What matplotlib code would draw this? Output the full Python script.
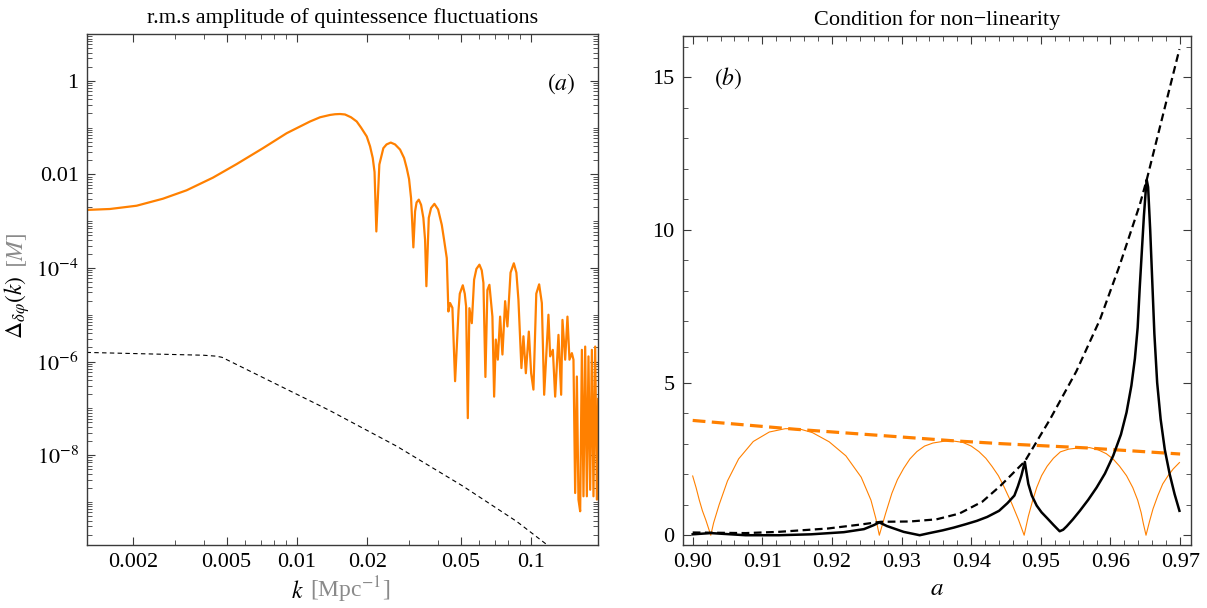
import numpy as np
import matplotlib
matplotlib.use("Agg")
import matplotlib.pyplot as plt
from matplotlib.ticker import FixedLocator, NullFormatter, FixedFormatter, MultipleLocator

plt.rcParams['font.family'] = ['Liberation Serif', 'DejaVu Serif']
plt.rcParams['mathtext.fontset'] = 'stix'

# ---------------- Panel (a) data ----------------
# log10(k) and log10(amplitude)
orange_logk = [-2.8987, -2.7991, -2.6850, -2.5726, -2.4714, -2.3590, -2.2577, -2.1453,
               -2.0440, -1.9444, -1.9017, -1.8590, -1.8376, -1.8162, -1.7949, -1.7692,
               -1.7449, -1.7265, -1.7021, -1.6880, -1.6765, -1.6688, -1.6611,
               -1.6483, -1.6312, -1.6175, -1.5996, -1.5812, -1.5598, -1.5427, -1.5312,
               -1.5214, -1.5128, -1.5030, -1.4957, -1.4893, -1.4799, -1.4701, -1.4603,
               -1.4530, -1.4474, -1.4372, -1.4274, -1.4132, -1.3974, -1.3816, -1.3718,
               -1.3603, -1.3534, -1.3462, -1.3363, -1.3248, -1.3175, -1.3100, -1.3047, -1.2919,
               -1.2835, -1.2778, -1.2705, -1.2637, -1.2534, -1.2436, -1.2337, -1.2209,
               -1.2110, -1.2038, -1.1953, -1.1868, -1.1782, -1.1654, -1.1581, -1.1509,
               -1.1423, -1.1325, -1.1226, -1.1111, -1.1013, -1.0880, -1.0739, -1.0630,
               -1.0543, -1.0415, -1.0329, -1.0226, -1.0098, -1.0000, -0.9902, -0.9780,
               -0.9658, -0.9543, -0.9444, -0.9261, -0.9188, -0.9073, -0.8974, -0.8833,
               -0.8718, -0.8662, -0.8547, -0.8449, -0.8363, -0.8261, -0.8192, -0.8120,
               -0.8047, -0.7979, -0.7906, -0.7833, -0.7765, -0.7692, -0.7620, -0.7551,
               -0.7479, -0.7406, -0.7338, -0.7265, -0.7192, -0.7137]
orange_logamp = [-2.76, -2.74, -2.67, -2.52, -2.34, -2.07, -1.78, -1.44,
                 -1.12, -0.87, -0.78, -0.73, -0.715, -0.71, -0.72, -0.78,
                 -0.87, -1.00, -1.19, -1.40, -1.65, -1.95, -3.22,
                 -1.79, -1.44, -1.36, -1.32, -1.36, -1.47, -1.65, -1.87,
                 -2.10, -2.51, -3.56, -2.79, -2.60, -2.54, -2.65, -2.93,
                 -3.40, -4.39, -2.93, -2.72, -2.63, -2.75, -3.08, -3.40,
                 -3.79, -4.93, -4.75, -4.85, -6.42, -5.68, -4.90, -4.55, -4.37,
                 -4.55, -4.82, -7.21, -4.86, -5.18, -4.25, -4.02, -3.93,
                 -4.05, -4.32, -6.33, -4.47, -4.36, -5.04, -6.75, -5.53,
                 -5.96, -5.04, -5.85, -4.71, -5.25, -4.10, -3.90, -4.10,
                 -4.68, -6.14, -5.46, -6.25, -5.36, -6.25, -6.60, -4.55,
                 -4.35, -4.75, -6.71, -5.00, -5.89, -5.75, -6.75, -5.43,
                 -6.71, -5.11, -5.96, -5.04, -5.96, -5.82, -5.96, -8.81,
                 -6.32, -8.95, -9.20, -5.75, -8.88, -5.68, -8.88, -5.89,
                 -8.74, -5.75, -8.88, -5.68, -8.95, -6.80]

dashed_logk = [-2.899, -2.40, -2.345, -2.32, -2.30, -1.859, -1.574, -1.289, -1.061, -0.90]
dashed_logamp = [-5.805, -5.865, -5.885, -5.91, -5.96, -7.05, -7.81, -8.67, -9.42, -10.04]

xticks_a = [0.002, 0.005, 0.01, 0.02, 0.05, 0.1]
xtick_labels_a = ['0.002', '0.005', '0.01', '0.02', '0.05', '0.1']
yticks_a = [1e0, 1e-2, 1e-4, 1e-6, 1e-8]
ytick_labels_a = ['1', '0.01', r'$10^{-4}$', r'$10^{-6}$', r'$10^{-8}$']

# ---------------- Panel (b) data ----------------
env_a = [0.900, 0.9148, 0.937, 0.9442, 0.9565, 0.970]
env_v = [3.76, 3.47, 3.10, 3.00, 2.86, 2.66]

osc_a = [0.9000, 0.9005, 0.90095, 0.9014, 0.9019, 0.9026, 0.9030, 0.9038, 0.9050, 0.9066,
         0.9087, 0.9110, 0.9133, 0.9152, 0.9172, 0.9196, 0.9220, 0.9242, 0.9256, 0.9263,
         0.9268, 0.9277, 0.9286, 0.9294, 0.9303, 0.9312, 0.9322, 0.9333, 0.9345, 0.9364,
         0.9376, 0.9388, 0.9400, 0.9411, 0.9421, 0.9430, 0.9439, 0.9447, 0.9458, 0.9468,
         0.9476, 0.9482, 0.9488, 0.9494, 0.9501, 0.9509, 0.9518, 0.9528, 0.9540, 0.9551,
         0.9570, 0.9582, 0.9594, 0.9604, 0.9613, 0.9623, 0.9632, 0.9639, 0.9644, 0.9647,
         0.9651, 0.9656, 0.9661, 0.9668, 0.9675, 0.9683, 0.9690, 0.9699]
osc_v = [1.94, 1.55, 1.15, 0.80, 0.49, 0.00, 0.40, 1.00, 1.78, 2.50,
         3.07, 3.38, 3.49, 3.49, 3.36, 3.06, 2.60, 1.90, 1.15, 0.55,
         0.00, 0.71, 1.37, 1.82, 2.19, 2.50, 2.74, 2.92, 3.02, 3.09,
         3.08, 3.04, 2.92, 2.74, 2.52, 2.25, 1.95, 1.59, 1.05, 0.50,
         0.00, 0.62, 1.12, 1.56, 1.95, 2.26, 2.52, 2.73, 2.82, 2.85,
         2.87, 2.80, 2.67, 2.49, 2.26, 1.95, 1.56, 1.15, 0.74, 0.40,
         0.00, 0.45, 0.86, 1.30, 1.68, 1.96, 2.17, 2.38]

solid_a = [0.9000, 0.9026, 0.9076, 0.9123, 0.9170, 0.9217, 0.9246, 0.9260, 0.9268, 0.9279,
           0.9303, 0.9326, 0.9340, 0.9359, 0.9375, 0.9392, 0.9408, 0.9423, 0.9440, 0.9452,
           0.9462, 0.9467, 0.9472, 0.9477, 0.9479, 0.9482, 0.9487, 0.9494, 0.9501, 0.9509,
           0.9518, 0.9527, 0.9532, 0.9537, 0.9546, 0.9556, 0.9568, 0.9580, 0.9592, 0.9604,
           0.9615, 0.9623, 0.9630, 0.9635, 0.9639, 0.9642, 0.9645, 0.9648, 0.9651, 0.9652,
           0.9654, 0.9657, 0.9660, 0.9663, 0.9667, 0.9672, 0.9678, 0.9685, 0.9692, 0.9699]
solid_v = [0.03, 0.07, 0.00, 0.00, 0.03, 0.10, 0.20, 0.33, 0.42, 0.30,
           0.11, 0.00, 0.07, 0.16, 0.25, 0.36, 0.47, 0.60, 0.80, 1.05,
           1.30, 1.60, 1.95, 2.40, 2.10, 1.68, 1.30, 0.97, 0.75, 0.56,
           0.34, 0.13, 0.18, 0.29, 0.52, 0.80, 1.16, 1.56, 2.02, 2.61,
           3.30, 4.02, 4.90, 5.78, 6.80, 8.12, 9.30, 10.47, 11.40, 11.64,
           11.40, 10.00, 8.30, 6.60, 5.00, 3.80, 2.80, 2.00, 1.35, 0.80]

bound_a = [0.9000, 0.9076, 0.9123, 0.9194, 0.9241, 0.9270, 0.9312, 0.9350, 0.9383, 0.9416,
           0.9442, 0.9477, 0.9513, 0.9551, 0.9585, 0.9613, 0.9642, 0.9652, 0.9670, 0.9699]
bound_v = [0.09, 0.07, 0.11, 0.22, 0.35, 0.44, 0.45, 0.52, 0.71, 1.10,
           1.62, 2.42, 3.79, 5.37, 7.07, 8.83, 10.82, 11.64, 13.28, 15.92]

xticks_b = [0.90, 0.91, 0.92, 0.93, 0.94, 0.95, 0.96, 0.97]
xtick_labels_b = ['0.90', '0.91', '0.92', '0.93', '0.94', '0.95', '0.96', '0.97']
yticks_b = [0, 5, 10, 15]

ORANGE = '#FF8000'
GRAY = '#8a8a8a'
SPINE = '#3a3a3a'
TICKFS = 16

W, H = 1207, 608
fig = plt.figure(figsize=(W / 100, H / 100), dpi=100)

def frac(x0, y0, x1, y1):
    return [x0 / W, 1 - y1 / H, (x1 - x0) / W, (y1 - y0) / H]

ax1 = fig.add_axes(frac(87, 34, 598, 545))
ax2 = fig.add_axes(frac(683, 36, 1191, 545))

for ax in (ax1, ax2):
    for s in ax.spines.values():
        s.set_color(SPINE)
        s.set_linewidth(1.0)
    ax.tick_params(which='both', direction='in', top=True, right=True, color=SPINE,
                   labelsize=TICKFS, pad=6)
    ax.tick_params(which='major', length=6, width=0.8)
    ax.tick_params(which='minor', length=3.5, width=0.6)

# ---------------- Panel (a) ----------------
ax1.set_xscale('log')
ax1.set_yscale('log')
ax1.plot(10 ** np.array(orange_logk), 10 ** np.array(orange_logamp), color=ORANGE, lw=1.6,
         solid_joinstyle='round')
ax1.plot(10 ** np.array(dashed_logk), 10 ** np.array(dashed_logamp), color='black', lw=0.8,
         dashes=(4, 3))
ax1.set_xlim(0.001268, 0.193)
ax1.set_ylim(1.2e-10, 10)
ax1.xaxis.set_major_locator(FixedLocator(xticks_a))
ax1.xaxis.set_major_formatter(FixedFormatter(xtick_labels_a))
minor_x = [m * d for d in (0.001, 0.01, 0.1) for m in range(1, 10)]
ax1.xaxis.set_minor_locator(FixedLocator([v for v in minor_x if v not in xticks_a]))
ax1.xaxis.set_minor_formatter(NullFormatter())
ax1.yaxis.set_major_locator(FixedLocator(yticks_a))
ax1.yaxis.set_major_formatter(FixedFormatter(ytick_labels_a))
minor_y = []
for e in range(-10, 2):
    for m in range(1, 10):
        minor_y.append(m * 10.0 ** e)
ax1.yaxis.set_minor_locator(FixedLocator(minor_y))
ax1.yaxis.set_minor_formatter(NullFormatter())
ax1.set_title('r.m.s amplitude of quintessence fluctuations', fontsize=16, pad=8)
ax1.text(0.929, 0.9035, r'$(a)$', transform=ax1.transAxes, fontsize=17, ha='center', va='center')

fig.text(17 / W, 1 - 307 / H, r'$\Delta_{\delta\varphi}(k)$', rotation=90, fontsize=17,
         ha='center', va='center')
fig.text(17 / W, 1 - 250 / H, r'$[M]$', rotation=90, fontsize=17, color=GRAY,
         ha='center', va='center')
fig.text(304 / W, 1 - 592 / H, r'$k$', fontsize=17, ha='right', va='center')
fig.text(310 / W, 1 - 590 / H, r'[Mpc$^{-1}$]', fontsize=17, color=GRAY, ha='left', va='center')

# ---------------- Panel (b) ----------------
ax2.plot(osc_a, osc_v, color=ORANGE, lw=0.8)
ax2.plot(env_a, env_v, color=ORANGE, lw=2.3, dashes=(4, 2))
ax2.plot(bound_a, bound_v, color='black', lw=1.6, dashes=(3.5, 2))
ax2.plot(solid_a, solid_v, color='black', lw=1.8, solid_joinstyle='round')
ax2.set_xlim(0.89861, 0.97156)
ax2.set_ylim(-0.32, 16.35)
ax2.xaxis.set_major_locator(FixedLocator(xticks_b))
ax2.xaxis.set_major_formatter(FixedFormatter(xtick_labels_b))
ax2.xaxis.set_minor_locator(MultipleLocator(0.002))
ax2.yaxis.set_major_locator(FixedLocator(yticks_b))
ax2.yaxis.set_minor_locator(MultipleLocator(1))
ax2.set_title('Condition for non\u2212linearity', fontsize=16, pad=8)
ax2.set_xlabel(r'$a$', fontsize=18, labelpad=4)
ax2.text(0.0886, 0.917, r'$(b)$', transform=ax2.transAxes, fontsize=17, ha='center', va='center')

fig.savefig('out.png', dpi=100)
